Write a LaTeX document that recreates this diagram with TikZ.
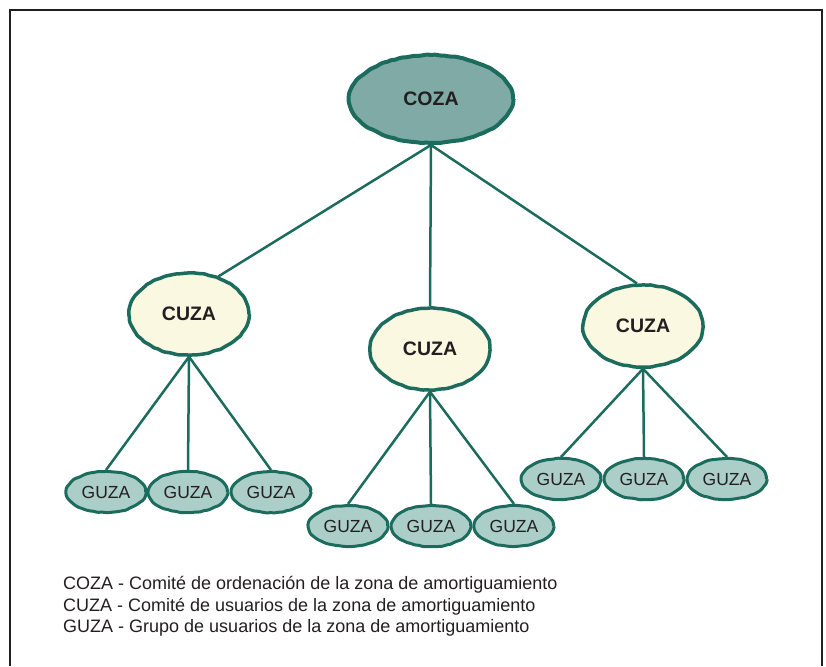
\documentclass[tikz,border=0pt]{standalone}
\usepackage{fontspec}
\setmainfont{Liberation Sans}
\usetikzlibrary{shapes.geometric,decorations.pathmorphing}
\definecolor{linkgreen}{RGB}{28,108,94}
\definecolor{cozafill}{RGB}{128,170,165}
\definecolor{cuzafill}{RGB}{250,248,225}
\definecolor{guzafill}{RGB}{172,206,201}
\definecolor{inkgrey}{RGB}{35,31,32}
\begin{document}
\begin{tikzpicture}[x=1pt,y=-1pt,
	wobble/.style={decorate,decoration={random steps,segment length=4pt,amplitude=0.5pt},rounded corners=1.2pt},
	cozabox/.style={ellipse,draw=linkgreen,line width=4pt,fill=cozafill,minimum width=164pt,minimum height=88pt,inner sep=0pt,text=inkgrey,font=\fontsize{19.5}{22}\selectfont\bfseries,wobble},
	cuzabox/.style={ellipse,draw=linkgreen,line width=3.5pt,fill=cuzafill,minimum width=120pt,minimum height=82pt,inner sep=0pt,text=inkgrey,font=\fontsize{19.5}{22}\selectfont\bfseries,wobble},
	guzabox/.style={ellipse,draw=linkgreen,line width=3pt,fill=guzafill,minimum width=79pt,minimum height=41pt,inner sep=0pt,text=inkgrey,font=\fontsize{17.5}{20}\selectfont,wobble},
	link/.style={draw=linkgreen,line width=2.5pt},
	legend/.style={anchor=base west,inner sep=0pt,font=\fontsize{18}{21}\selectfont,text=inkgrey}]
\pgfmathsetseed{7}
\useasboundingbox (0,0) rectangle (826,666);
	\draw[line width=1.3pt,inkgrey] (10,666) -- (10,10) -- (822,10) -- (822,666);

	\node[cozabox] (coza) at (431,99) {COZA};
	\node[cuzabox] (cuzaA) at (189,314) {CUZA};
	\node[cuzabox] (cuzaB) at (430,349) {CUZA};
	\node[cuzabox] (cuzaC) at (643,326) {CUZA};

	\node[guzabox] (guzaA1) at (106,492) {GUZA};
	\node[guzabox] (guzaA2) at (188,492) {GUZA};
	\node[guzabox] (guzaA3) at (271,492) {GUZA};
	\node[guzabox] (guzaB1) at (348,526) {GUZA};
	\node[guzabox] (guzaB2) at (431,526) {GUZA};
	\node[guzabox] (guzaB3) at (514,526) {GUZA};
	\node[guzabox] (guzaC1) at (561,479) {GUZA};
	\node[guzabox] (guzaC2) at (644,479) {GUZA};
	\node[guzabox] (guzaC3) at (727,479) {GUZA};

\draw[link] (coza.south) -- (cuzaA.52);
\draw[link] (coza.south) -- (cuzaB.north);
\draw[link] (coza.south) -- (cuzaC.98);

\draw[link] (cuzaA.south) -- (guzaA1.north);
\draw[link] (cuzaA.south) -- (guzaA2.north);
\draw[link] (cuzaA.south) -- (guzaA3.north);
\draw[link] (cuzaB.south) -- (guzaB1.north);
\draw[link] (cuzaB.south) -- (guzaB2.north);
\draw[link] (cuzaB.south) -- (guzaB3.north);
\draw[link] (cuzaC.south) -- (guzaC1.north);
\draw[link] (cuzaC.south) -- (guzaC2.north);
\draw[link] (cuzaC.south) -- (guzaC3.north);

	\node[legend] (legcoza) at (63,589) {COZA - Comité de ordenación de la zona de amortiguamiento};
	\node[legend] (legcuza) at (63,611) {CUZA - Comité de usuarios de la zona de amortiguamiento};
	\node[legend] (legguza) at (63,632) {GUZA - Grupo de usuarios de la zona de amortiguamiento};
\end{tikzpicture}
\end{document}
